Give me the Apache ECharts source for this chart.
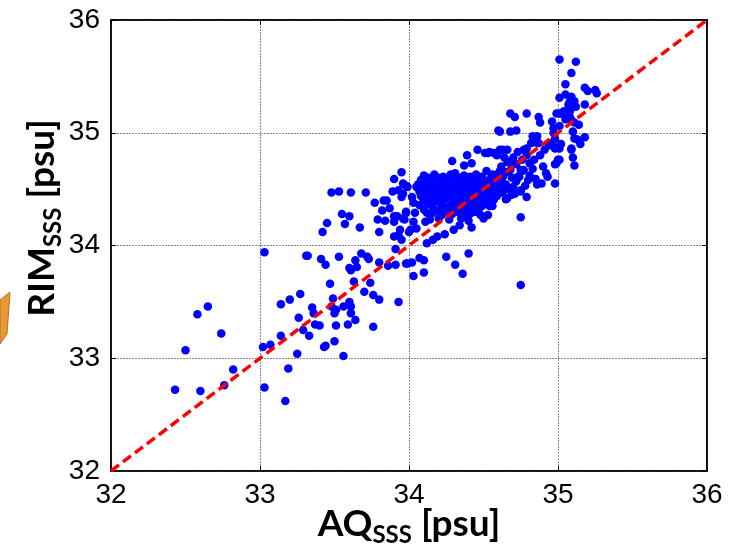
<!DOCTYPE html>
<html><head><meta charset="utf-8">
<script src="https://cdn.jsdelivr.net/npm/echarts@6/dist/echarts.min.js"></script>
<style>html,body{margin:0;padding:0;background:#fff}#c{width:752px;height:553px}</style>
</head><body><div id="c"></div>
<script>
// Axis ticks
const xTicks = [32, 33, 34, 35, 36];
const yTicks = [32, 33, 34, 35, 36];
// 1:1 reference line
const oneToOne = [[32, 32], [36, 36]];
// Scatter points [AQ_SSS, RIM_SSS], grouped by region
const lowTail = [
[33.03,33.94],[33.31,33.91],[33.14,33.48],[33.20,33.52],[33.27,33.57],[33.26,33.36],[33.29,33.25],[33.33,33.20],
[33.14,33.20],[33.02,33.10],[33.07,33.12],[33.25,33.04],[33.19,32.91],[33.03,32.74],[33.17,32.62],[32.58,33.39],
[32.65,33.46],[32.74,33.22],[32.50,33.07],[32.82,32.90],[32.76,32.76],[32.43,32.72],[32.60,32.71]
];
const midGroup = [
[33.48,34.47],[33.53,34.48],[33.61,34.47],[33.71,34.47],[33.55,34.28],[33.60,34.26],[33.45,34.20],[33.57,34.19],
[33.42,34.12],[33.67,34.16],[33.80,34.12],[33.79,34.23],[33.77,34.38],[33.83,34.40],[33.85,34.40],[33.82,34.31],
[33.87,34.33],[33.84,34.22],[33.89,34.48],[33.90,34.59],[33.95,34.65],[33.96,34.55],[33.93,34.49],[33.95,34.43],
[33.98,34.53],[33.90,34.26],[33.92,34.26],[33.96,34.24],[33.98,34.29],[33.90,34.21],[33.94,34.14],[33.93,34.09],
[33.90,34.08],[34.00,34.12],
[33.32,33.91],[33.41,33.88],[33.44,33.83],[33.53,33.90],[33.68,33.93],[33.72,33.90],[33.73,33.88],[33.64,33.87],
[33.65,33.81],[33.60,33.80],[33.61,33.78],[33.80,33.85],[33.86,33.82],[33.91,33.83],[33.91,33.97],[33.98,33.84],
[33.47,33.66],[33.63,33.68],[33.74,33.67],[33.70,33.59],[33.76,33.56],[33.80,33.52],[33.93,33.50],[33.49,33.53],
[33.35,33.45],[33.36,33.40],[33.48,33.46],[33.51,33.43],[33.50,33.40],[33.56,33.46],[33.60,33.50],[33.61,33.46],
[33.61,33.40],[33.64,33.34],[33.59,33.30],[33.51,33.29],[33.37,33.30],[33.40,33.29],[33.76,33.28],[33.50,33.15],
[33.43,33.10],[33.44,33.11],[33.56,33.02]
];
const belowCluster = [
[34.12,34.02],[34.16,34.05],[34.25,33.90],[34.40,33.93],[34.31,33.83],[34.36,33.75],[34.75,33.65],[33.99,33.84],
[34.02,33.85],[34.07,33.89],[34.10,33.87],[34.03,33.73],[34.10,33.76]
];
const clusterEdge = [
[34.46,34.85],[34.53,34.82],[34.58,34.82],[34.39,34.80],[34.29,34.75],[34.37,34.71],[34.42,34.73],[34.28,34.63],
[34.20,34.58],[34.12,34.57],[33.99,34.52],[34.05,34.52],[34.07,34.48],[33.96,34.46],[34.02,34.43],[34.03,34.38],
[33.98,34.30],[34.04,34.29],[34.03,34.21],[33.97,34.23],[34.01,34.14],[34.05,34.15],[34.11,34.21],[34.14,34.23],
[34.19,34.08],[34.24,34.10],[34.30,34.14],[34.34,34.18],[34.42,34.16],[34.44,34.35],[34.47,34.29],[34.50,34.24],
[34.54,34.35],[34.57,34.41],[33.95,34.05],[34.48,34.27],[34.53,34.27]
];
const clusterCore = [
[34.10,34.62],[34.17,34.63],[34.23,34.61],[34.31,34.64],[34.37,34.62],[34.45,34.63],[34.52,34.66],
[34.08,34.58],[34.14,34.57],[34.26,34.59],[34.33,34.57],[34.41,34.59],[34.48,34.58],[34.55,34.60],
[34.06,34.54],[34.12,34.55],[34.19,34.53],[34.27,34.55],[34.35,34.54],[34.43,34.56],[34.50,34.54],[34.58,34.55],
[34.09,34.51],[34.15,34.50],[34.22,34.52],[34.30,34.50],[34.38,34.51],[34.46,34.52],[34.53,34.50],[34.61,34.52],
[34.11,34.47],[34.18,34.46],[34.25,34.48],[34.33,34.47],[34.41,34.46],[34.49,34.48],[34.56,34.46],
[34.08,34.44],[34.14,34.43],[34.21,34.44],[34.29,34.42],[34.36,34.44],[34.44,34.43],[34.52,34.42],[34.59,34.44],
[34.10,34.40],[34.17,34.39],[34.24,34.41],[34.32,34.40],[34.39,34.38],[34.47,34.40],[34.54,34.39],
[34.07,34.36],[34.13,34.37],[34.22,34.35],[34.28,34.36],[34.35,34.34],[34.41,34.36],[34.49,34.35],
[34.10,34.32],[34.18,34.31],[34.25,34.32],[34.31,34.30],[34.38,34.31],[34.46,34.32],
[34.15,34.28],[34.22,34.27],[34.29,34.28],[34.36,34.26],[34.42,34.29],
[34.20,34.24],[34.27,34.23],[34.35,34.24],[34.40,34.22]
];
const clusterCore2 = [
[34.13,34.60],[34.20,34.60],[34.28,34.62],[34.34,34.60],[34.41,34.61],[34.49,34.61],[34.56,34.63],
[34.11,34.57],[34.18,34.56],[34.23,34.57],[34.30,34.57],[34.37,34.56],[34.45,34.57],[34.52,34.57],[34.60,34.58],
[34.09,34.53],[34.16,34.52],[34.24,34.53],[34.32,34.53],[34.40,34.53],[34.47,34.54],[34.55,34.53],
[34.13,34.49],[34.20,34.49],[34.27,34.50],[34.35,34.49],[34.43,34.49],[34.51,34.50],[34.58,34.49],
[34.10,34.46],[34.17,34.45],[34.23,34.45],[34.31,34.45],[34.39,34.44],[34.46,34.45],[34.54,34.44],[34.62,34.47],
[34.12,34.42],[34.19,34.41],[34.27,34.43],[34.34,34.42],[34.42,34.41],[34.50,34.42],[34.57,34.41],
[34.15,34.38],[34.21,34.38],[34.30,34.38],[34.37,34.37],[34.44,34.38],[34.52,34.37],
[34.16,34.34],[34.24,34.34],[34.33,34.33],[34.40,34.33],[34.47,34.34],
[34.12,34.29],[34.20,34.29],[34.27,34.30],[34.34,34.29],[34.40,34.27],[34.45,34.30]
];
const upperBand = [
[34.61,35.01],[34.68,35.01],[34.83,34.97],[34.97,35.00],[34.94,34.89],[34.98,34.86],[34.79,34.86],[34.82,34.91],
[34.86,34.91],[34.66,34.85],[34.61,34.85],[34.54,34.83],[34.51,34.82],[34.59,34.80],[34.79,34.80],[34.76,34.76],
[34.99,34.73],[34.76,34.66],[34.70,34.72],[34.73,34.61],[34.80,34.58],[34.85,34.59],[34.86,34.54],[34.92,34.64],
[34.93,34.61],[34.98,34.55],[34.70,34.52],[34.63,34.48],[34.75,34.48],[34.79,34.43],[34.65,34.41],[34.75,34.25],
[34.68,35.17],[34.71,35.14],[34.79,35.17],[34.87,35.14],[34.88,35.09],[34.96,35.10],[34.99,35.17],[35.02,35.17],
[35.06,35.17],[35.08,35.14],[35.11,35.09],[34.97,35.04],[35.01,35.06],[34.60,35.02],[34.72,35.02],[34.86,34.97],
[34.83,34.92],[34.87,34.91],[34.96,34.91],[34.98,34.95],[35.01,34.86],[34.97,34.88],[35.13,34.94],[35.09,34.85],
[35.00,34.76],[34.98,34.72],[34.77,34.85],[34.81,34.73],[34.88,34.80],[34.89,34.55],[34.57,34.82],[34.63,34.85],
[34.72,34.72],[34.75,34.67],[34.74,34.61],[34.77,34.67],[34.68,34.67],[34.63,34.61],[34.59,34.63],[34.57,34.57],
[34.59,34.51],[34.55,34.47],[34.65,34.54],[34.66,34.42],[34.69,34.45],[34.75,34.49],[34.56,34.35],
[34.62,34.70],[34.66,34.74],[34.70,34.78],[34.73,34.83],[34.65,34.65],[34.69,34.60],[34.72,34.57],[34.81,34.62],
[34.83,34.68],[34.84,34.76],[34.90,34.70],[34.91,34.85],[34.62,34.57],[34.67,34.50],[34.71,34.46],[34.78,34.53],
[34.61,34.66],[34.64,34.78]
];
const topTail = [
[35.01,35.65],[35.12,35.63],[35.09,35.53],[35.05,35.43],[35.18,35.40],[35.20,35.37],[35.25,35.38],[35.26,35.35],
[35.05,35.34],[35.09,35.32],[35.11,35.28],[35.08,35.28],[35.01,35.31],[35.07,35.25],[35.12,35.23],[35.18,35.25],
[35.04,35.19],[35.08,35.19],[35.01,35.17],[35.09,35.11],[35.14,35.07],[35.05,35.12],[35.10,35.01],[35.11,34.95],
[35.18,34.96],[35.15,34.90],[35.02,34.90],[35.09,34.86],[35.10,34.78],[35.11,34.71],[35.01,34.76]
];
const points = [].concat(lowTail, midGroup, belowCluster, clusterEdge, clusterCore, clusterCore2, upperBand, topTail);

const chart = echarts.init(document.getElementById('c'), null, {renderer: 'canvas'});
const tickFont = {fontFamily: '"Liberation Sans", Arial, sans-serif', fontSize: 28, color: '#000'};
const titleFont = '"Lato", "Open Sans", sans-serif';
const gridLine = {show: true, lineStyle: {color: '#8c8c8c', width: 1, type: [2, 1]}};
const titleRich = {
  a: {fontFamily: titleFont, fontWeight: 'bold', fontSize: 37, lineHeight: 40, verticalAlign: 'bottom', color: '#000'},
  s: {fontFamily: titleFont, fontWeight: 'bold', fontSize: 24, lineHeight: 14, padding: [20, 0, 0, 0], verticalAlign: 'top', color: '#000'}
};
chart.setOption({
  animation: false,
  backgroundColor: '#fff',
  grid: {left: 111, top: 20, width: 596, height: 451, containLabel: false, outerBoundsMode: 'none',
    show: true, borderColor: '#000', borderWidth: 1.5, backgroundColor: 'transparent'},
  graphic: [{type: 'polygon', shape: {points: [[0, 300], [10, 292], [7, 334], [0, 344]]},
    style: {fill: '#e59a35', stroke: '#b8701e', lineWidth: 1}}],
  xAxis: [{
    type: 'value', min: xTicks[0], max: xTicks[xTicks.length - 1], interval: 1, position: 'bottom',
    axisLine: {show: true, lineStyle: {color: '#000', width: 1.5}},
    axisTick: {show: true, inside: true, length: 5, lineStyle: {color: '#000'}},
    axisLabel: Object.assign({margin: 10}, tickFont),
    splitLine: gridLine,
    name: '{a|AQ}{s|SSS}{a| [psu]}', nameLocation: 'middle', nameGap: 32, nameMoveOverlap: false,
    nameTextStyle: {rich: titleRich}
  }, {
    type: 'value', min: xTicks[0], max: xTicks[xTicks.length - 1], interval: 1, position: 'top',
    axisLine: {show: true, lineStyle: {color: '#000', width: 1.5}},
    axisTick: {show: true, inside: true, length: 5, lineStyle: {color: '#000'}},
    axisLabel: {show: false}, splitLine: {show: false}
  }],
  yAxis: [{
    type: 'value', min: yTicks[0], max: yTicks[yTicks.length - 1], interval: 1, position: 'left',
    axisLine: {show: true, lineStyle: {color: '#000', width: 1.5}},
    axisTick: {show: true, inside: true, length: 5, lineStyle: {color: '#000'}},
    axisLabel: Object.assign({margin: 11}, tickFont),
    splitLine: gridLine,
    name: '{a|RIM}{s|SSS}{a| [psu]}', nameLocation: 'middle', nameGap: 50, nameRotate: 90, nameMoveOverlap: false,
    nameTextStyle: {padding: [0, 0, 0, 55], rich: titleRich}
  }, {
    type: 'value', min: yTicks[0], max: yTicks[yTicks.length - 1], interval: 1, position: 'right',
    axisLine: {show: true, lineStyle: {color: '#000', width: 1.5}},
    axisTick: {show: true, inside: true, length: 5, lineStyle: {color: '#000'}},
    axisLabel: {show: false}, splitLine: {show: false}
  }],
  series: [{
    type: 'scatter', data: points, symbol: 'circle', symbolSize: 8.5,
    itemStyle: {color: '#0000ff', opacity: 1}, z: 2
  }, {
    type: 'line', data: oneToOne, showSymbol: false, symbol: 'none',
    lineStyle: {color: '#ff0000', width: 3.5, type: [10, 5]}, z: 3
  }]
});
</script>
</body></html>
